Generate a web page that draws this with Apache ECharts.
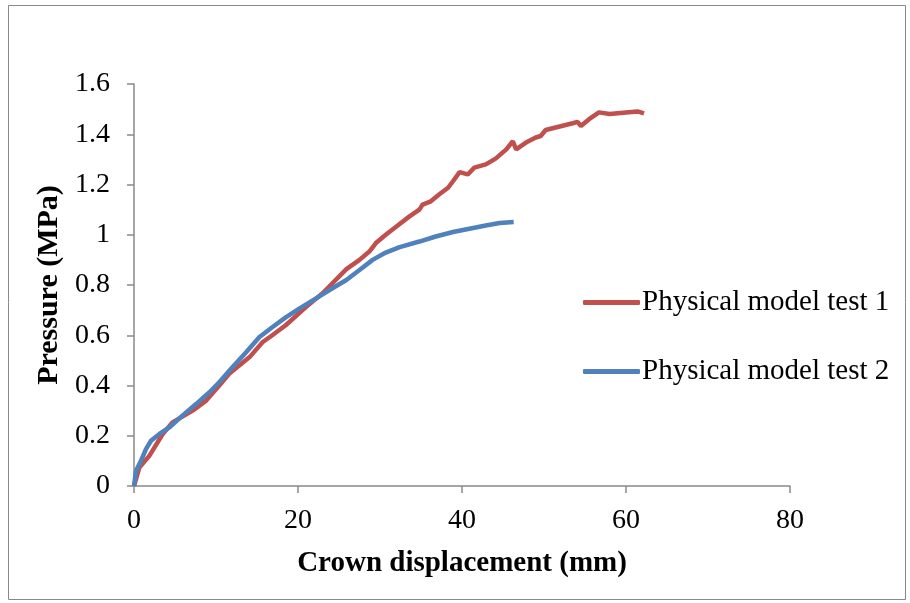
<!DOCTYPE html>
<html><head><meta charset="utf-8">
<script src="https://cdn.jsdelivr.net/npm/echarts@6/dist/echarts.min.js"></script>
<style>html,body{margin:0;padding:0;background:#fff}#c{width:910px;height:603px}</style>
</head><body><div id="c"></div>
<script>
const seriesNames = ['Physical model test 1', 'Physical model test 2'];
const test1X = [0,0.65,1.87,3.5,4.7,7.15,8.8,10.4,11.6,14.1,15.7,16.7,18.5,21.0,23.0,24.2,25.9,27.5,28.7,29.5,30.7,32.0,33.6,34.8,35.2,36.2,37.2,38.3,38.9,39.7,40.7,41.5,42.9,44.1,45.4,46.2,46.6,47.8,49.0,49.6,50.2,51.9,53.5,54.1,54.5,55.5,56.7,58.0,60.0,61.4,62.2];
const test1Y = [0,0.073,0.12,0.207,0.253,0.30,0.34,0.40,0.447,0.513,0.573,0.596,0.64,0.713,0.767,0.807,0.863,0.90,0.933,0.967,1.0,1.033,1.073,1.10,1.12,1.133,1.16,1.187,1.213,1.249,1.24,1.267,1.28,1.303,1.34,1.372,1.34,1.367,1.387,1.393,1.417,1.431,1.444,1.449,1.433,1.46,1.487,1.481,1.487,1.491,1.483];
const test2X = [0,0.24,0.85,1.46,2.07,3.1,4.3,5.9,7.6,9.2,10.4,12.0,13.7,15.3,16.9,18.5,20.2,22.2,24.2,25.9,27.5,29.1,30.7,32.4,34.8,36.8,38.9,40.9,42.9,44.6,46.3];
const test2Y = [0,0.06,0.10,0.147,0.18,0.207,0.233,0.28,0.327,0.373,0.413,0.473,0.533,0.593,0.633,0.671,0.707,0.747,0.787,0.82,0.86,0.90,0.929,0.951,0.973,0.993,1.011,1.024,1.037,1.047,1.051];
const xTitle = 'Crown displacement (mm)';
const yTitle = 'Pressure (MPa)';

const zip = (xs, ys) => xs.map((x, i) => [x, ys[i]]);
const font = '"Liberation Serif", "Times New Roman", serif';
const chart = echarts.init(document.getElementById('c'), null, {renderer: 'canvas'});
chart.setOption({
  animation: false,
  backgroundColor: '#fff',
  graphic: [{type: 'rect', shape: {x: 8.5, y: 5.5, width: 897, height: 594}, style: {fill: 'none', stroke: '#898989', lineWidth: 1}, silent: true}],
  grid: {left: 134, right: 120, top: 84, bottom: 117, containLabel: false},
  legend: {
    orient: 'vertical', left: 578, top: 283, itemGap: 40,
    itemWidth: 57, itemHeight: 5, icon: 'roundRect',
    textStyle: {fontFamily: font, fontSize: 29, color: '#000', padding: [0,0,0,-3]},
    data: seriesNames
  },
  xAxis: {
    type: 'value', min: 0, max: 80, interval: 20,
    name: xTitle, nameLocation: 'middle', nameGap: 63,
    nameTextStyle: {fontFamily: font, fontSize: 29, fontWeight: 'bold', color: '#000'},
    axisLine: {lineStyle: {color: '#898989', width: 1.5}},
    axisTick: {show: true, length: 7, lineStyle: {color: '#898989', width: 1.5}},
    axisLabel: {fontFamily: font, fontSize: 28, color: '#000', margin: 21},
    splitLine: {show: false}
  },
  yAxis: {
    type: 'value', min: 0, max: 1.6, interval: 0.2,
    name: yTitle, nameLocation: 'middle', nameGap: 67, nameRotate: 90,
    nameTextStyle: {fontFamily: font, fontSize: 30, fontWeight: 'bold', color: '#000'},
    axisLine: {show: true, lineStyle: {color: '#898989', width: 1.5}},
    axisTick: {show: true, length: 7, lineStyle: {color: '#898989', width: 1.5}},
    axisLabel: {fontFamily: font, fontSize: 28, color: '#000', margin: 24,
      formatter: v => String(+v.toFixed(1))},
    splitLine: {show: false}
  },
  series: [
    {name: seriesNames[0], type: 'line', data: zip(test1X, test1Y), showSymbol: false, symbol: 'none',
     lineStyle: {color: '#C0504D', width: 4.5}, itemStyle: {color: '#C0504D'}, z: 2},
    {name: seriesNames[1], type: 'line', data: zip(test2X, test2Y), showSymbol: false, symbol: 'none',
     lineStyle: {color: '#4F81BD', width: 4.5}, itemStyle: {color: '#4F81BD'}, z: 3}
  ]
});
</script></body></html>
